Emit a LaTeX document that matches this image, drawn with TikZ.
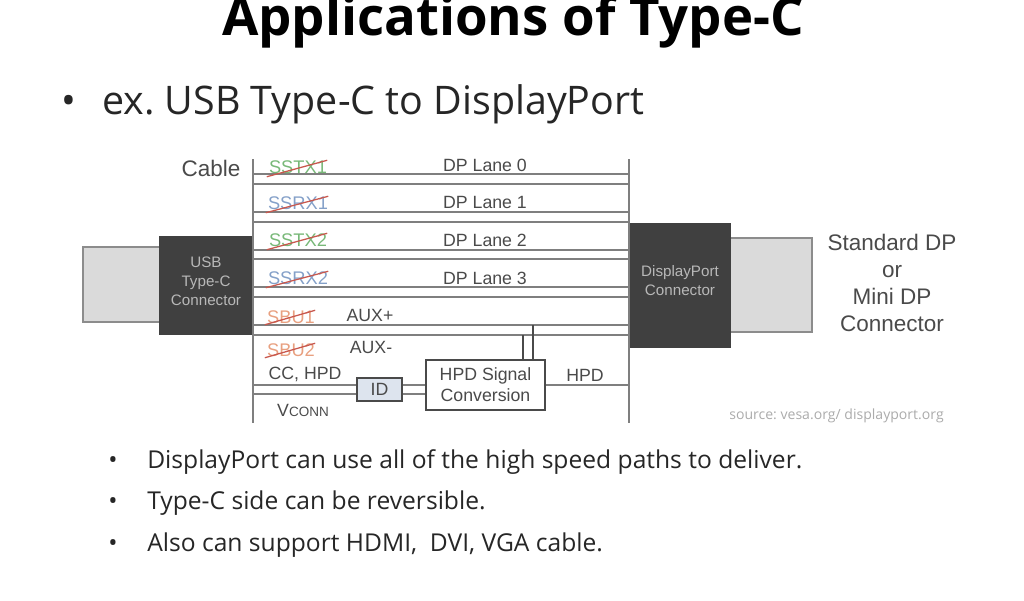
\documentclass[tikz,border=0pt]{standalone}
\usepackage{fontspec}
\setmainfont{Liberation Sans}
\newfontfamily\slidefont{Open Sans}
\usetikzlibrary{calc}
\definecolor{BoxDark}  {HTML}{404040}
\definecolor{PlugGray} {HTML}{DADADA}
\definecolor{PlugEdge} {HTML}{8C8C8C}
\definecolor{WireGray} {HTML}{7F7F7F}
\definecolor{LabelGray}{HTML}{4A4A4A}
\definecolor{TxGreen}  {HTML}{78B878}
\definecolor{RxBlue}   {HTML}{84A0C8}
\definecolor{SbuOrange}{HTML}{E8A080}
\definecolor{StrikeRed}{HTML}{C8584E}
\definecolor{IdFill}   {HTML}{DDE4EE}
\definecolor{SrcGray}  {HTML}{ABABAB}
\frenchspacing
\tikzset{
  conn/.style={
    fill=BoxDark, draw=BoxDark, minimum width=#1, inner sep=0pt,
  },
  conntxt/.style={
    inner sep=0pt, align=center, text=black!28,
    font=\fontsize{10.8}{13.5}\selectfont,
  },
  plug/.style={fill=PlugGray, draw=PlugEdge, line width=1.2pt},
  wire/.style={color=WireGray, line width=1.4pt},
  rail/.style={color=WireGray, line width=1.5pt},
  stub/.style={color=LabelGray, line width=0.9pt},
  lbl/.style={
    text=LabelGray, inner sep=0pt, font=\fontsize{12.6}{15}\selectfont,
  },
  pinlbl/.style={
    lbl, text=#1, font=\fontsize{13}{15}\selectfont,
  },
  strike/.style={color=StrikeRed, line width=0.9pt},
  bigl/.style={
    text=LabelGray, inner sep=0pt, align=center,
    font=\fontsize{16}{19.2}\selectfont,
  },
  bullet/.style={
    anchor=base west, inner sep=0pt, text=black!85,
    font=\slidefont\fontsize{17.5}{20}\selectfont,
  },
}

\begin{document}
\begin{tikzpicture}[x=0.025cm, y=-0.025cm]
\useasboundingbox (0,0) rectangle (1024,600);
\clip (0,0) rectangle (1024,600);

% ── Slide text ────────────────────────────────────────────────────────────
\node[anchor=base, inner sep=0pt, text=black, font=\slidefont\fontsize{37.5}{44}\selectfont\bfseries]
  (TITLE) at (513,35) {Applications of Type-C};
\node[anchor=base west, inner sep=0pt, text=black!85, font=\slidefont\fontsize{28}{34}\selectfont]
  (DOT0) at (61,114) {•};
\node[anchor=base west, inner sep=0pt, text=black!85, font=\slidefont\fontsize{28}{34}\selectfont]
  (SUB) at (102,114) {ex. USB Type-C to DisplayPort};

% ── Connectors ────────────────────────────────────────────────────────────
\node[plug, minimum width=77*0.025cm, minimum height=75*0.025cm, inner sep=0pt] (PLUGL) at (121.5,284.5) {};
\node[plug, minimum width=82*0.025cm, minimum height=94*0.025cm, inner sep=0pt] (PLUGR) at (771,285) {};
\node[conn=94*0.025cm, minimum height=98*0.025cm] (USB) at (206.5,285) {};
\node[conn=101*0.025cm, minimum height=124*0.025cm] (DPC) at (679.5,285) {};
\node[conntxt] (USBTXT) at (206,281) {USB\\Type-C\\Connector};
\node[conntxt] (DPTXT) at (680,281) {DisplayPort\\Connector};

% ── Rails and wires ───────────────────────────────────────────────────────
\coordinate (RAILL) at (253,159);
\coordinate (RAILR) at (629,159);
\draw[rail] (RAILL) -- (RAILL |- 0,423);
\draw[rail] (RAILR) -- (RAILR |- 0,423);

\draw[wire] (RAILL |- 0,174) -- (RAILR |- 0,174);
\draw[wire] (RAILL |- 0,184) -- (RAILR |- 0,184);
\draw[wire] (RAILL |- 0,212) -- (RAILR |- 0,212);
\draw[wire] (RAILL |- 0,222) -- (RAILR |- 0,222);
\draw[wire] (RAILL |- 0,250) -- (RAILR |- 0,250);
\draw[wire] (RAILL |- 0,259) -- (RAILR |- 0,259);
\draw[wire] (RAILL |- 0,287) -- (RAILR |- 0,287);
\draw[wire] (RAILL |- 0,297) -- (RAILR |- 0,297);
\draw[wire] (RAILL |- 0,325) -- (RAILR |- 0,325);
\draw[wire] (RAILL |- 0,335) -- (RAILR |- 0,335);

% ── Lane labels ───────────────────────────────────────────────────────────
\node[bigl] (CABLE) at (211,168) {Cable};
\node[lbl] (LANE0) at (485,165) {DP Lane 0};
\node[lbl] (LANE1) at (485,202) {DP Lane 1};
\node[lbl] (LANE2) at (485,240) {DP Lane 2};
\node[lbl] (LANE3) at (485,278) {DP Lane 3};
\node[lbl] (AUXP) at (370,315) {AUX+};
\node[lbl] (AUXM) at (371,347) {AUX-};
\node[lbl] (CCHPD) at (305,374) {CC, HPD};
\node[lbl] (HPD) at (585,375) {HPD};
\node[lbl] (VCONN) at (303,410) {V{\fontsize{9.6}{12}\selectfont CONN}};

% ── Crossed-out pins ──────────────────────────────────────────────────────
\node[pinlbl=TxGreen]   (SSTX1) at (298,167) {SSTX1};
\node[pinlbl=RxBlue]    (SSRX1) at (298,203) {SSRX1};
\node[pinlbl=TxGreen]   (SSTX2) at (298,240) {SSTX2};
\node[pinlbl=RxBlue]    (SSRX2) at (298,278) {SSRX2};
\node[pinlbl=SbuOrange] (SBU1)  at (291,317) {SBU1};
\node[pinlbl=SbuOrange] (SBU2)  at (291,350) {SBU2};
\draw[strike] (SSTX1.south west) ++(-2,3) -- (SSTX1.north east);
\draw[strike] (SSRX1.south west) ++(-2,3) -- (SSRX1.north east);
\draw[strike] (SSTX2.south west) ++(-2,3) -- (SSTX2.north east);
\draw[strike] (SSRX2.south west) ++(-2,3) -- (SSRX2.north east);
\draw[strike] (SBU1.south west) ++(-2,1) -- (SBU1.north east);
\draw[strike] (SBU2.south west) ++(-2,1) -- (SBU2.north east);

% ── Signal conversion ─────────────────────────────────────────────────────
\node[draw=LabelGray, fill=IdFill, line width=1.2pt, minimum width=45*0.025cm, minimum height=23*0.025cm,
  inner sep=0pt, text=LabelGray, font=\fontsize{12.6}{15}\selectfont] (ID) at (379.5,389.5) {ID};
\node[draw=LabelGray, fill=white, line width=1.2pt, minimum width=119*0.025cm, minimum height=50*0.025cm,
  inner sep=0pt, align=center, text=LabelGray, font=\fontsize{12.6}{15}\selectfont] (CONV) at (485.5,385) {HPD Signal\\Conversion};

\draw[wire] (RAILL |- 0,385) -- (ID.west |- 0,385);
\draw[wire] (RAILL |- 0,394) -- (ID.west |- 0,394);
\draw[wire] (ID.east |- 0,385) -- (CONV.west |- 0,385);
\draw[wire] (ID.east |- 0,394) -- (CONV.west |- 0,394);
\draw[wire] (CONV.east |- 0,385) -- (RAILR |- 0,385);
\draw[stub] (CONV.north -| 523,0) -- (523,335);
\draw[stub] (CONV.north -| 533,0) -- (533,325);

% ── Right-hand note and source ────────────────────────────────────────────
\node[bigl] (DPNOTE) at (892,283) {Standard DP\\or\\Mini DP\\Connector};
\node[anchor=base east, inner sep=0pt, text=SrcGray, font=\slidefont\fontsize{10}{12}\selectfont]
  (SRC) at (944,419) {source: vesa.org/ displayport.org};

% ── Bullets ───────────────────────────────────────────────────────────────
\node[bullet] (DOT1) at (108,468) {•};
\node[bullet] (ITEM1) at (147,468) {DisplayPort can use all of the high speed paths to deliver.};
\node[bullet] (DOT2) at (108,509) {•};
\node[bullet] (ITEM2) at (147,509) {Type-C side can be reversible.};
\node[bullet] (DOT3) at (108,551) {•};
\node[bullet] (ITEM3) at (147,551) {Also can support HDMI,\ \ DVI, VGA cable.};

\end{tikzpicture}
\end{document}
